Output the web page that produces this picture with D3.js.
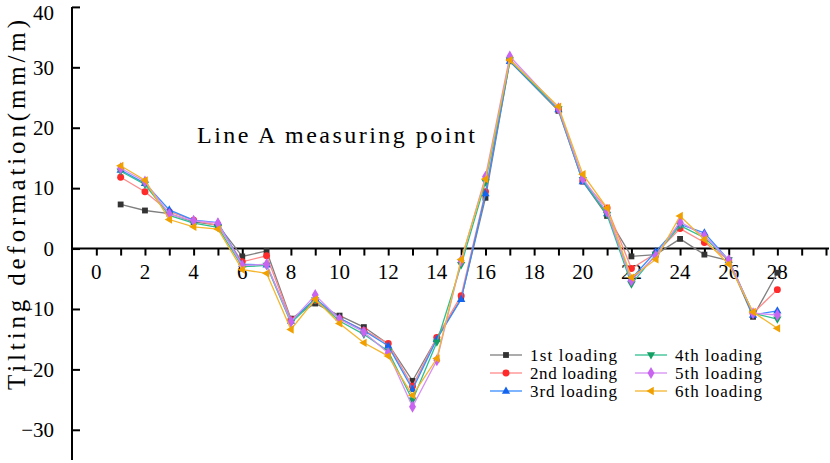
<!DOCTYPE html>
<html>
<head>
<meta charset="utf-8">
<script src="https://cdn.jsdelivr.net/npm/d3@7"></script>
<style>
  body { margin: 0; background: #fff; }
  svg { display: block; font-family: "Liberation Serif", "DejaVu Serif", serif; }
</style>
</head>
<body>
<div id="chart"></div>
<script>
// measuring points (no reading at 18)
const points = [1, 2, 3, 4, 5, 6, 7, 8, 9, 10, 11, 12, 13, 14, 15, 16, 17, 19, 20, 21, 22, 23, 24, 25, 26, 27, 28]
const load1 = [7.3, 6.3, 5.8, 4.4, 3.9, -1.3, -0.4, -11.6, -9.1, -11.1, -13.0, -15.8, -21.9, -14.8, -8.3, 8.4, 31.0, 22.8, 11.1, 5.4, -1.3, -1.0, 1.6, -1.0, -2.0, -11.3, -4.0]
const load2 = [11.8, 9.4, 6.1, 4.7, 3.8, -2.2, -1.2, -11.8, -8.6, -11.6, -13.5, -15.7, -22.8, -14.7, -7.8, 9.4, 31.3, 23.0, 11.2, 6.7, -3.3, -0.8, 3.3, 1.0, -1.9, -10.7, -6.8]
const load3 = [13.0, 10.8, 6.4, 4.7, 4.3, -2.6, -2.7, -12.0, -8.3, -11.5, -13.6, -16.1, -23.3, -15.0, -8.4, 9.1, 31.0, 23.0, 11.1, 5.8, -5.0, -0.5, 4.0, 2.6, -1.9, -11.0, -10.3]
const load4 = [12.8, 10.6, 5.5, 4.2, 3.5, -3.0, -2.8, -12.3, -8.5, -12.0, -14.2, -17.0, -25.1, -15.5, -2.7, 11.0, 31.2, 23.1, 11.4, 5.6, -5.9, -1.0, 3.8, 1.8, -1.9, -10.7, -11.7]
const load5 = [13.3, 11.1, 5.7, 4.6, 4.2, -2.8, -2.6, -12.1, -7.7, -11.7, -13.8, -17.3, -26.2, -18.5, -2.0, 11.9, 31.8, 23.2, 11.6, 6.1, -5.3, -1.2, 4.4, 2.1, -1.9, -10.7, -11.0]
const load6 = [13.7, 11.3, 4.8, 3.6, 3.2, -3.5, -4.1, -13.4, -8.4, -12.4, -15.6, -17.8, -24.3, -18.2, -1.8, 11.5, 31.2, 23.5, 12.3, 6.7, -4.8, -1.8, 5.4, 1.5, -2.6, -10.5, -13.2]

const seriesNames = ['1st loading', '2nd loading', '3rd loading', '4th loading', '5th loading', '6th loading']
const seriesValues = [load1, load2, load3, load4, load5, load6]
const markerColors = ['#333333', '#ff2a2a', '#1464f0', '#14a064', '#c864f0', '#f0a000']
const lineColors = ['#7f7f7f', '#ff8a8a', '#3a8cff', '#2fbf8f', '#d68ef5', '#f5b52e']
const markerShapes = [d3.symbolSquare, d3.symbolCircle, 'up', 'down', d3.symbolDiamond, 'left']

const yTicks = [-30, -20, -10, 0, 10, 20, 30, 40]
const xLabels = [0, 2, 4, 6, 8, 10, 12, 14, 16, 18, 20, 22, 24, 26, 28]

const width = 830
const height = 463

const svg = d3.select('#chart').append('svg')
  .attr('width', width).attr('height', height)

const x = d3.scaleLinear().domain([-1, 30]).range([72, 826])
const y = d3.scaleLinear().domain([-35, 40]).range([460, 6.9])

// triangles drawn by hand, pointing up / down / left
function triangle(dir, s) {
  const pts = {
    up: [[0, -s], [s * 0.9, s * 0.6], [-s * 0.9, s * 0.6]],
    down: [[0, s], [s * 0.9, -s * 0.6], [-s * 0.9, -s * 0.6]],
    left: [[-s, 0], [s * 0.6, -s * 0.9], [s * 0.6, s * 0.9]]
  }[dir]
  return 'M' + pts.map(p => p.join(',')).join('L') + 'Z'
}
function markerPath(i) {
  const shape = markerShapes[i]
  if (typeof shape === 'string') return triangle(shape, 4.6)
  const size = shape === d3.symbolCircle ? 38 : (shape === d3.symbolDiamond ? 42 : 34)
  return d3.symbol().type(shape).size(size)()
}

// AXES
const xAxis = d3.axisBottom(x)
  .tickValues(d3.range(0, 31))
  .tickSize(7)
  .tickFormat('')
const gx = svg.append('g')
  .attr('class', 'axis x')
  .attr('transform', 'translate(0,' + y(0) + ')')
  .call(xAxis)
gx.select('.domain').attr('d', 'M' + x(-1) + ',0H' + (x(30) + 3))
gx.selectAll('line, path').attr('stroke', '#000').attr('stroke-width', 2)

svg.append('g')
  .selectAll('text')
  .data(xLabels)
  .enter()
  .append('text')
  .attr('x', d => x(d))
  .attr('y', y(0) + 30)
  .attr('text-anchor', 'middle')
  .attr('font-size', 21)
  .text(d => d)

const yAxis = d3.axisLeft(y)
  .tickValues(yTicks)
  .tickSize(-8)
  .tickPadding(18)
const gy = svg.append('g')
  .attr('class', 'axis y')
  .attr('transform', 'translate(' + x(-1) + ',0)')
  .call(yAxis)
gy.select('.domain').attr('d', 'M0,' + y(40) + 'V' + y(-35))
gy.selectAll('line, path').attr('stroke', '#000').attr('stroke-width', 2)
gy.selectAll('text').attr('font-size', 21).attr('fill', '#000').attr('font-family', '"Liberation Serif", serif')
// top label sits a little lower so it stays inside the frame
gy.selectAll('.tick text').filter(d => d === 40).attr('dy', '0.62em')

svg.append('text')
  .attr('transform', 'translate(25,205) rotate(-90)')
  .attr('text-anchor', 'middle')
  .attr('font-size', 25)
  .attr('textLength', 370)
  .attr('lengthAdjust', 'spacing')
  .text('Tilting deformation(mm/m)')

svg.append('text')
  .attr('x', 197)
  .attr('y', 143)
  .attr('font-size', 24)
  .attr('textLength', 278)
  .attr('lengthAdjust', 'spacing')
  .text('Line A measuring point')

// LINES + MARKERS
const line = d3.line()
  .x((d, i) => x(points[i]))
  .y(d => y(d))

const series = svg.append('g').attr('class', 'series')
seriesValues.forEach(function(vals, i) {
  const g = series.append('g')
  g.append('path')
    .attr('d', line(vals))
    .attr('fill', 'none')
    .attr('stroke', lineColors[i])
    .attr('stroke-width', 1.3)
  g.selectAll('.pt')
    .data(vals)
    .enter()
    .append('path')
    .attr('class', 'pt')
    .attr('transform', (d, j) => 'translate(' + x(points[j]) + ',' + y(d) + ')')
    .attr('d', markerPath(i))
    .attr('fill', markerColors[i])
})

// LEGEND
const legend = svg.append('g').attr('class', 'legend')
seriesNames.forEach(function(name, i) {
  const col = Math.floor(i / 3)
  const row = i % 3
  const lx = 490 + col * 145
  const ly = 355 + row * 18
  legend.append('line')
    .attr('x1', lx).attr('x2', lx + 32)
    .attr('y1', ly).attr('y2', ly)
    .attr('stroke', lineColors[i]).attr('stroke-width', 1.3)
  legend.append('path')
    .attr('transform', 'translate(' + (lx + 16) + ',' + ly + ')')
    .attr('d', markerPath(i))
    .attr('fill', markerColors[i])
  legend.append('text')
    .attr('x', lx + 40)
    .attr('y', ly + 6)
    .attr('font-size', 17)
    .attr('textLength', 87)
    .attr('lengthAdjust', 'spacing')
    .text(name)
})
</script>
</body>
</html>
